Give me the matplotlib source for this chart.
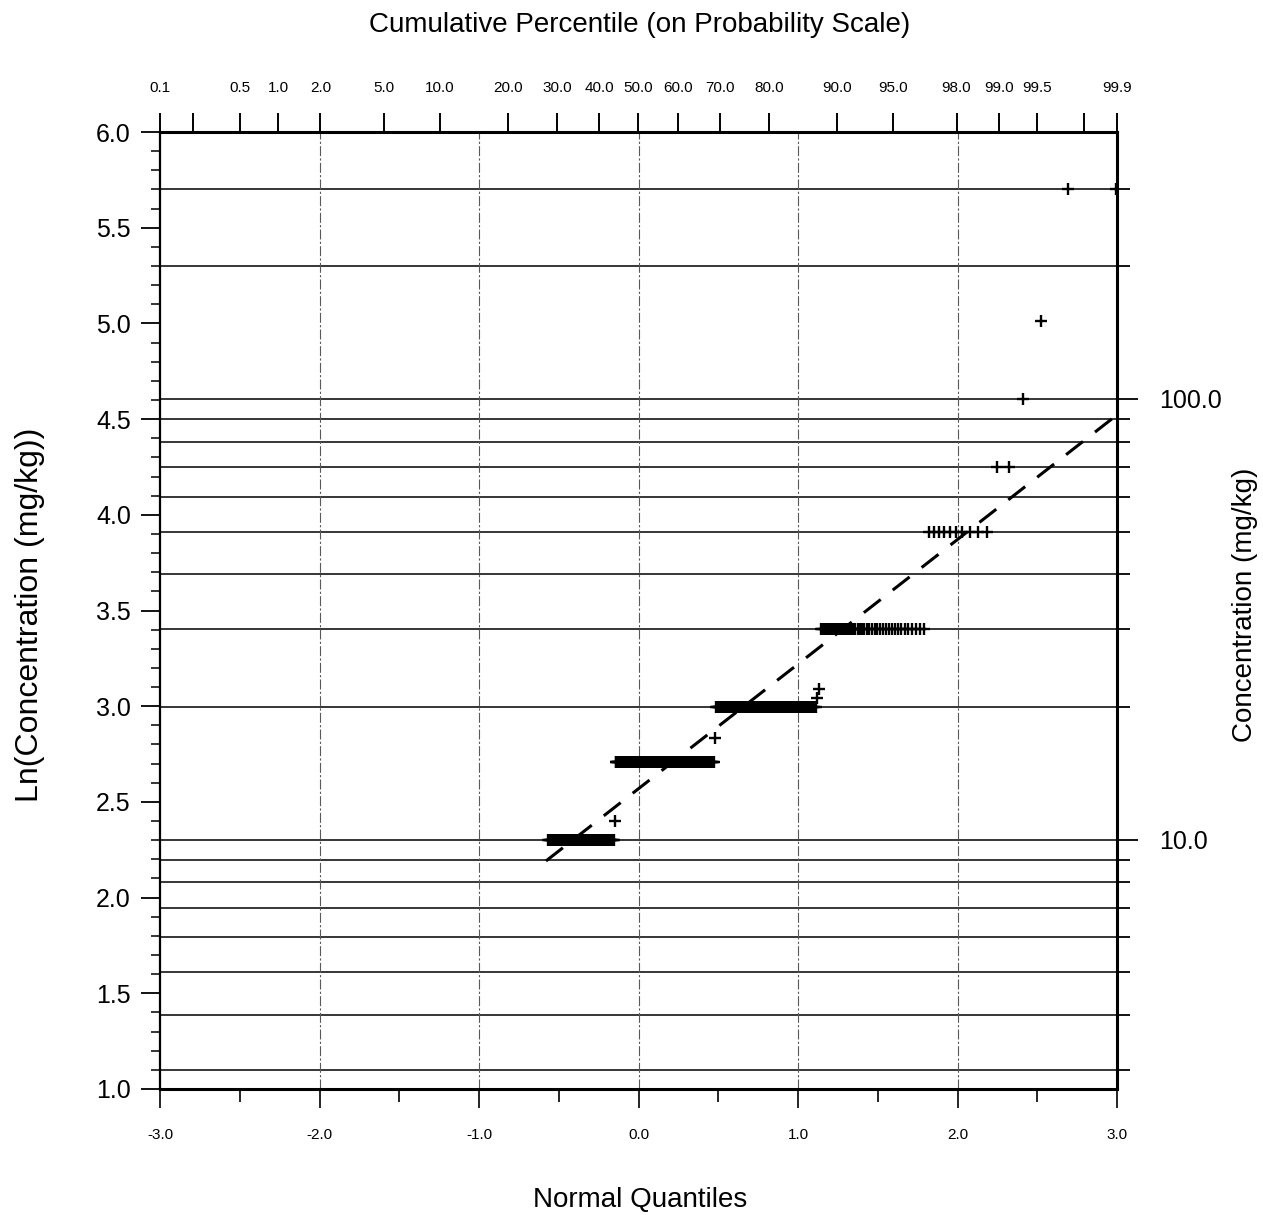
from statistics import NormalDist

import matplotlib
matplotlib.use("Agg")
import matplotlib.pyplot as plt
import numpy as np

plt.rcParams["font.family"] = ["Liberation Sans", "DejaVu Sans"]

# detected concentrations (mg/kg) and how many samples sit at each value
conc_values = [10, 11, 15, 17, 20, 21, 22, 30, 50, 70, 100, 150, 300]
conc_counts = [71, 1, 110, 1, 83, 1, 1, 42, 10, 2, 1, 1, 2]
n_not_plotted = 129          # lower-ranked samples that are not drawn

# fitted lognormal line (ln scale) and the z-range it is drawn over
fit_mean = 2.569
fit_sd = 0.651
fit_z = [-0.58, 2.98]

# horizontal reference lines / right axis ticks (mg/kg)
grid_conc = [3, 4, 5, 6, 7, 8, 9, 10, 20, 30, 40, 50, 60, 70, 80, 90, 100, 200, 300]
right_labels = {10: "10.0", 100: "100.0"}

# top axis: cumulative percentiles
pct_ticks = [0.1, 0.2, 0.5, 1.0, 2.0, 5.0, 10.0, 20.0, 30.0, 40.0, 50.0, 60.0,
             70.0, 80.0, 90.0, 95.0, 98.0, 99.0, 99.5, 99.8, 99.9]
pct_labels = ["0.1", "", "0.5", "1.0", "2.0", "5.0", "10.0", "20.0", "30.0", "40.0",
              "50.0", "60.0", "70.0", "80.0", "90.0", "95.0", "98.0", "99.0", "99.5",
              "", "99.9"]

nd = NormalDist()

# Blom plotting positions over the full sample
y_pts = np.log(np.repeat(conc_values, conc_counts))
n_total = n_not_plotted + len(y_pts)
ranks = np.arange(n_not_plotted + 1, n_total + 1)
pp = (ranks - 0.375) / (n_total + 0.25)
z_pts = np.array([nd.inv_cdf(p) for p in pp])

W, H = 1263, 1215
fig = plt.figure(figsize=(W / 100, H / 100), dpi=100)
ax = fig.add_axes([160 / W, 1 - 1089 / H, (1117 - 160) / W, (1089 - 132) / H])
ax.set_xlim(-3, 3)
ax.set_ylim(1, 6)

for c in grid_conc:
    ax.axhline(np.log(c), color="black", lw=1.1, zorder=1)
for xv in [-2, -1, 0, 1, 2]:
    ax.axvline(xv, color="0.35", lw=0.8, ls=(0, (9, 2, 2, 2)), zorder=1)

ax.plot(z_pts, y_pts, ls="none", marker="+", ms=9, mew=1.7, color="black", zorder=3)

zf = np.array(fit_z)
ax.plot(zf, fit_mean + fit_sd * zf, color="black", lw=2.2, ls=(0, (7, 5)), zorder=2)

# bottom axis
ax.set_xticks(np.arange(-3, 3.01, 1.0))
ax.set_xticklabels([f"{v:.1f}" for v in np.arange(-3, 3.01, 1.0)], fontsize=11)
ax.set_xticks(np.arange(-2.5, 3, 1.0), minor=True)
ax.tick_params(axis="x", which="major", direction="out", length=14, width=1.2, pad=14)
ax.tick_params(axis="x", which="minor", direction="out", length=9, width=1.2)

# left axis
ax.set_yticks(np.arange(1, 6.01, 0.5))
ax.set_yticklabels([f"{v:.1f}" for v in np.arange(1, 6.01, 0.5)], fontsize=18)
ax.set_yticks(np.arange(1, 6.01, 0.1), minor=True)
ax.tick_params(axis="y", which="major", direction="out", length=14, width=1.3, pad=7)
ax.tick_params(axis="y", which="minor", direction="out", length=6.5, width=1.1)

for side in ["top", "bottom", "right"]:
    ax.spines[side].set_linewidth(2.2)
ax.spines["left"].set_linewidth(1.6)

# top axis in cumulative percent
top = ax.twiny()
top.set_xlim(-3, 3)
scale = 3 / nd.inv_cdf(0.999)
top.set_xticks([nd.inv_cdf(p / 100) * scale for p in pct_ticks])
top.set_xticklabels(pct_labels, fontsize=11)
top.tick_params(axis="x", direction="out", length=14, width=1.4, pad=13)
for side in top.spines.values():
    side.set_visible(False)

# right axis in mg/kg
right = ax.twinx()
right.set_ylim(1, 6)
right.set_yticks([np.log(c) for c in right_labels])
right.set_yticklabels(list(right_labels.values()), fontsize=18)
right.set_yticks([np.log(c) for c in grid_conc if c not in right_labels], minor=True)
right.tick_params(axis="y", which="major", direction="out", length=15, width=1.3, pad=15)
right.tick_params(axis="y", which="minor", direction="out", length=9, width=1.3)
for side in right.spines.values():
    side.set_visible(False)

fig.text(640 / W, 1 - 25 / H, "Cumulative Percentile (on Probability Scale)",
         ha="center", va="center", fontsize=20)
fig.text(640 / W, 1 - 1200 / H, "Normal Quantiles", ha="center", va="center", fontsize=20)
fig.text(30 / W, 1 - 615 / H, "Ln(Concentration (mg/kg))", ha="center", va="center",
         rotation=90, fontsize=23)
fig.text(1245 / W, 1 - 605 / H, "Concentration (mg/kg)", ha="center", va="center",
         rotation=90, fontsize=20)

fig.savefig("out.png", dpi=100)
